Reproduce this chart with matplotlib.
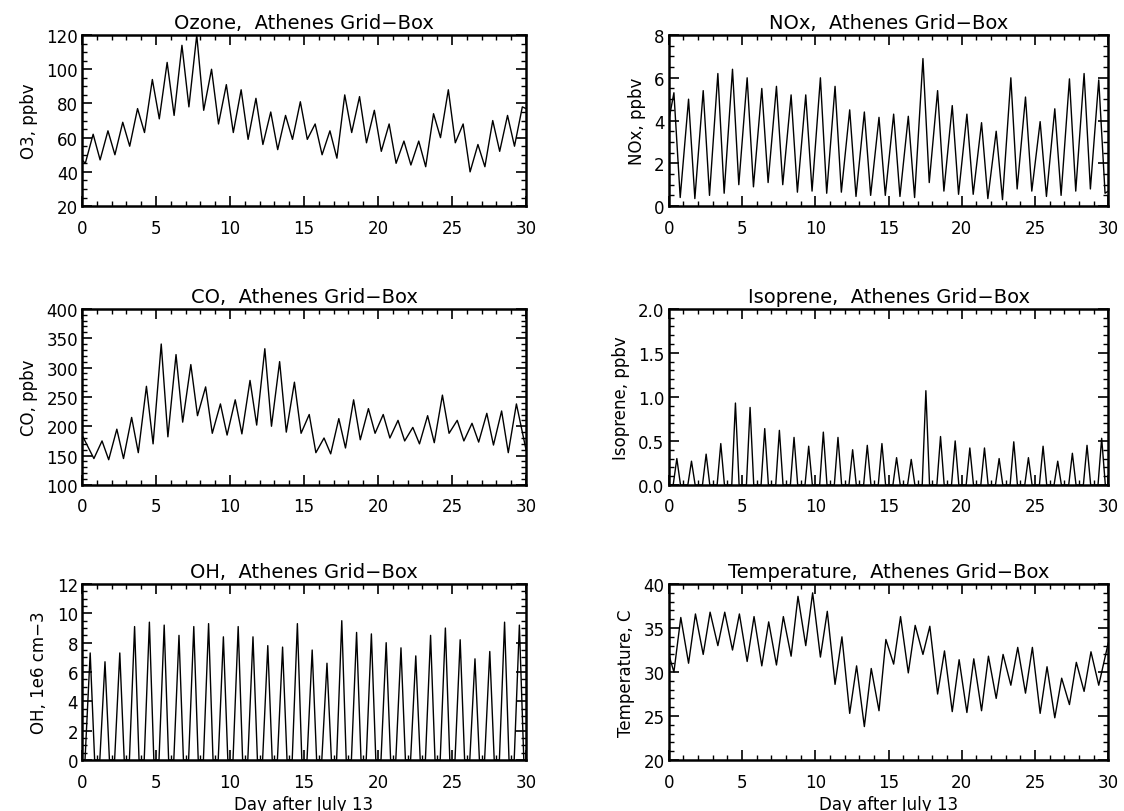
import numpy as np
import matplotlib.pyplot as plt
from matplotlib.ticker import MultipleLocator

# 每日時間軸 (Day after July 13)
day = np.arange(30)

# Ozone, ppbv : 日最低 (~+0.22 d) / 日最高 (~+0.75 d)
o3_min = [45, 47, 50, 55, 63, 71, 73, 78, 76, 68, 63, 59, 56, 53, 59,
          59, 50, 48, 63, 57, 52, 45, 44, 43, 60, 57, 40, 43, 52, 55]
o3_max = [62, 64, 69, 77, 94, 104, 114, 120, 100, 91, 88, 83, 75, 73, 81,
          68, 64, 85, 84, 76, 68, 58, 58, 74, 88, 68, 56, 70, 73, 78]
o3_start, o3_end = 47, 77

# NOx, ppbv : 峰值 (~+0.35 d) / 谷值 (~+0.78 d)
nox_max = [5.3, 5.0, 5.4, 6.2, 6.4, 6.0, 5.5, 5.6, 5.2, 5.2, 6.0, 5.6, 4.5, 4.4, 4.15,
           4.3, 4.2, 6.9, 5.4, 4.7, 4.3, 3.9, 3.5, 6.0, 5.1, 3.95, 4.55, 5.95, 6.2, 5.9]
nox_min = [0.4, 0.35, 0.5, 0.6, 1.0, 0.9, 1.1, 1.0, 0.65, 0.7, 0.6, 0.65, 0.45, 0.5, 0.5,
           0.45, 0.4, 1.1, 0.7, 0.55, 0.55, 0.35, 0.3, 0.8, 0.7, 0.45, 0.5, 0.7, 0.8, 0.6]
nox_start, nox_end = 4.0, 0.7

# CO, ppbv : 峰值 (day 1..29, ~+0.35 d) / 谷值 (day 0..28, ~+0.8 d)
co_max = [175, 195, 215, 268, 340, 322, 305, 267, 238, 245, 278, 332, 310, 275,
          220, 180, 213, 245, 230, 220, 210, 198, 218, 253, 210, 205, 222, 226, 238]
co_min = [145, 143, 145, 155, 170, 182, 207, 218, 188, 185, 187, 202, 200, 190, 188,
          155, 153, 163, 177, 188, 180, 175, 170, 172, 188, 175, 173, 168, 155]
co_start, co_end = 185, 160

# Isoprene, ppbv : 白天峰值 (~+0.55 d), 夜間為 0
iso_max = [0.30, 0.27, 0.35, 0.47, 0.93, 0.88, 0.64, 0.62, 0.54, 0.44, 0.60, 0.54, 0.40, 0.45, 0.47,
           0.31, 0.29, 1.07, 0.55, 0.50, 0.42, 0.42, 0.30, 0.49, 0.31, 0.44, 0.27, 0.36, 0.45, 0.53]
iso_night = [0.0] * 30

# OH, 1e6 cm-3 : 白天峰值 (~+0.55 d), 夜間為 0
oh_max = [7.3, 6.7, 7.3, 9.1, 9.4, 9.2, 8.5, 9.1, 9.3, 8.4, 9.1, 8.4, 7.8, 7.7, 9.3,
          7.5, 6.6, 9.5, 8.7, 8.6, 8.0, 7.65, 7.1, 8.5, 9.0, 8.2, 6.9, 7.4, 9.4, 9.2]
oh_night = [0.0] * 30

# Temperature, C : 日最低 (~+0.35 d) / 日最高 (~+0.82 d)
temp_min = [30.0, 31.0, 32.0, 33.0, 32.5, 31.2, 30.7, 30.8, 31.8, 33.0, 31.7, 28.6, 25.3, 23.8, 25.6,
            30.9, 29.9, 32.0, 27.5, 25.5, 25.4, 25.6, 27.0, 28.5, 27.6, 25.3, 24.8, 26.3, 27.8, 28.5]
temp_max = [36.2, 36.6, 36.8, 36.8, 36.6, 36.3, 35.7, 36.3, 38.6, 39.0, 36.9, 34.0, 30.7, 30.4,
            33.7, 36.3, 35.3, 35.2, 32.4, 31.4, 31.5, 31.8, 32.0, 32.8, 32.8, 30.6, 29.3, 31.1, 32.3]
temp_start, temp_end = 32.0, 33.3


def build(start, end, *parts):
    # 把各段 (時間, 數值) 合併, 依時間排序
    t = np.concatenate([np.asarray(tt, float) for tt, _ in parts])
    v = np.concatenate([np.asarray(vv, float) for _, vv in parts])
    keep = (t > 0) & (t < 30)
    t, v = t[keep], v[keep]
    order = np.argsort(t)
    t = np.concatenate([[0.0], t[order], [30.0]])
    v = np.concatenate([[start], v[order], [end]])
    return t, v


o3 = build(o3_start, o3_end, (day + 0.22, o3_min), (day + 0.75, o3_max))
nox = build(nox_start, nox_end, (day + 0.35, nox_max), (day + 0.78, nox_min))
co = build(co_start, co_end, (day[1:] + 0.35, co_max), (day[:29] + 0.8, co_min))
iso = build(0.0, 0.0, (day + 0.3, iso_night), (day + 0.55, iso_max), (day + 0.8, iso_night))
oh = build(0.0, 0.0, (day + 0.2, oh_night), (day + 0.55, oh_max), (day + 0.85, oh_night))
temp = build(temp_start, temp_end, (day + 0.35, temp_min), (day[:29] + 0.82, temp_max))

panels = [
    ("Ozone", "O3, ppbv", o3, (20, 120), 20, 5),
    ("NOx", "NOx, ppbv", nox, (0, 8), 2, 0.5),
    ("CO", "CO, ppbv", co, (100, 400), 50, 10),
    ("Isoprene", "Isoprene, ppbv", iso, (0, 2), 0.5, 0.1),
    ("OH", "OH, 1e6 cm\u22123", oh, (0, 12), 2, 0.5),
    ("Temperature", "Temperature, C", temp, (20, 40), 5, 1),
]

plt.rcParams['font.family'] = ['DejaVu Sans']

fig = plt.figure(figsize=(11.24, 8.12), dpi=100)

# 版面 (依參考圖量得的像素位置換算)
lefts = [0.073, 0.595]
widths = [0.395, 0.391]
bottoms = [0.745, 0.4015, 0.0628]
heights = [0.2106, 0.217, 0.2167]

for i, (name, ylab, (t, v), ylim, major, minor) in enumerate(panels):
    r, c = divmod(i, 2)
    ax = fig.add_axes([lefts[c], bottoms[r], widths[c], heights[r]])
    ax.plot(t, v, color='black', linewidth=1.0)
    ax.set_xlim(0, 30)
    ax.set_ylim(*ylim)
    ax.xaxis.set_major_locator(MultipleLocator(5))
    ax.xaxis.set_minor_locator(MultipleLocator(1))
    ax.yaxis.set_major_locator(MultipleLocator(major))
    ax.yaxis.set_minor_locator(MultipleLocator(minor))
    ax.tick_params(which='both', direction='in', top=True, right=True, labelsize=12)
    ax.tick_params(which='major', length=7, width=1.2)
    ax.tick_params(which='minor', length=3.5, width=1.0)
    ax.tick_params(axis='x', pad=9)
    ax.tick_params(axis='y', pad=3)
    for s in ax.spines.values():
        s.set_linewidth(1.8)
    ax.set_title(f"{name},  Athenes Grid\u2212Box", fontsize=14, pad=5)
    ax.set_ylabel(ylab, fontsize=12, labelpad=6)
    if r == 2:
        ax.set_xlabel("Day after July 13", fontsize=12, labelpad=3)

fig.savefig("out.png", dpi=100)
